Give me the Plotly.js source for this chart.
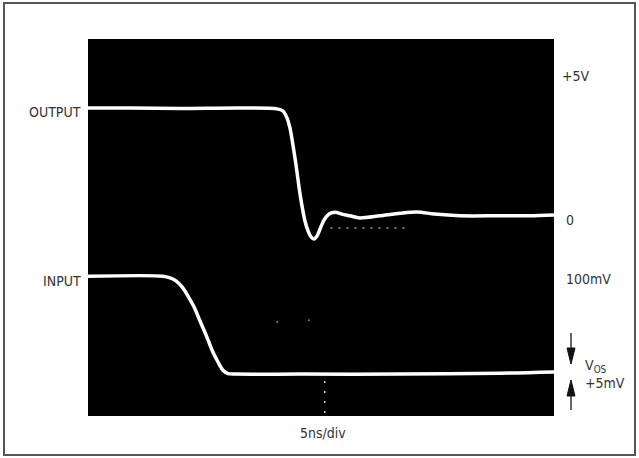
<!DOCTYPE html>
<html>
<head>
<meta charset="utf-8">
<script src="https://cdn.plot.ly/plotly-3.0.1.min.js"></script>
<style>
  html, body { margin: 0; padding: 0; background: #fff; }
  #chart { width: 639px; height: 458px; }
</style>
</head>
<body>
<div id="chart"></div>
<script>
// ---- data (time in ns, 5 ns/div; vertical in screen divisions) ----
const outputTime = [0, 4.5, 9.9, 16.3, 20.28, 20.92, 21.35, 21.67, 21.99, 22.32, 22.64, 22.96, 23.28, 23.61, 23.93, 24.25, 24.57, 24.89, 25.32, 25.86, 26.5, 27.25, 28.11, 29.18, 31.3, 33.5, 35.3, 37.2, 39.9, 44.2, 47.4, 50];
const outputLevel = [6.47, 6.47, 6.46, 6.47, 6.45, 6.40, 6.24, 6.01, 5.61, 5.15, 4.64, 4.20, 3.85, 3.62, 3.48, 3.43, 3.50, 3.66, 3.87, 4.01, 4.05, 4.01, 3.97, 3.92, 3.97, 4.03, 4.06, 4.01, 3.97, 3.97, 3.97, 3.99];
const inputTime = [0, 8.05, 8.8, 9.44, 10.09, 10.73, 11.37, 12.02, 12.66, 13.3, 13.95, 14.48, 15.02, 15.77, 22.7, 33.5, 44.2, 50];
const inputLevel = [2.57, 2.57, 2.53, 2.46, 2.32, 2.11, 1.86, 1.53, 1.21, 0.86, 0.58, 0.39, 0.31, 0.30, 0.30, 0.30, 0.32, 0.35];
const refLineTime = [26, 34.3];
const refLineLevel = [3.69, 3.69];
const markerTime = [25.4, 25.4];
const markerLevel = [-0.6, 0.15];
const strayTime = [20.3, 23.7];
const strayLevel = [1.51, 1.55];
const leftLabels = ["OUTPUT", "INPUT"];
const rightLabels = ["+5V", "0", "100mV"];
const xLabel = "5ns/div";

// ---- layout geometry (pixels) ----
const W = 639, H = 458;
const L = 88, R = 554, T = 39, B = 416;
const px = x => (x - L) / (R - L);
const py = y => (B - y) / (B - T);
const font = { family: "Liberation Sans Narrow, DejaVu Sans Condensed, Roboto, sans-serif", size: 14, color: "#333" };

const traces = [
  { x: outputTime, y: outputLevel, mode: "lines", line: { color: "#fff", width: 3.5, shape: "spline", smoothing: 0.8 }, hoverinfo: "skip" },
  { x: inputTime, y: inputLevel, mode: "lines", line: { color: "#fff", width: 3.5, shape: "spline", smoothing: 0.8 }, hoverinfo: "skip" },
  { x: refLineTime, y: refLineLevel, mode: "lines", line: { color: "#bbb", width: 1.3, dash: "2px,6px" }, hoverinfo: "skip" },
  { x: markerTime, y: markerLevel, mode: "lines", line: { color: "#ccc", width: 1.5, dash: "2px,8px" }, hoverinfo: "skip" },
  { x: strayTime, y: strayLevel, mode: "markers", marker: { color: "#888", size: 2 }, hoverinfo: "skip" }
];

const ann = [];
ann.push({ text: leftLabels[0], x: px(83), y: py(112), xanchor: "right", yanchor: "middle" });
ann.push({ text: leftLabels[1], x: px(83), y: py(281), xanchor: "right", yanchor: "middle" });
ann.push({ text: rightLabels[0], x: px(560), y: py(76), xanchor: "left", yanchor: "middle" });
ann.push({ text: rightLabels[1], x: px(564), y: py(220), xanchor: "left", yanchor: "middle" });
ann.push({ text: rightLabels[2], x: px(564), y: py(279), xanchor: "left", yanchor: "middle" });
ann.push({ text: "V<sub>OS</sub>", x: px(583), y: py(366), xanchor: "left", yanchor: "middle" });
ann.push({ text: "+5mV", x: px(583), y: py(383), xanchor: "left", yanchor: "middle" });
ann.push({ text: xLabel, x: px(323), y: py(433), xanchor: "center", yanchor: "middle" });
ann.forEach(a => { a.xref = "paper"; a.yref = "paper"; a.showarrow = false; a.font = font; });

const ax = 571;
const shapes = [
  // outer frame
  { type: "rect", xref: "paper", yref: "paper", x0: px(4), x1: px(635), y0: py(3), y1: py(455), line: { color: "#555", width: 2 } },
  // down arrow
  { type: "line", xref: "paper", yref: "paper", x0: px(ax), x1: px(ax), y0: py(333), y1: py(352), line: { color: "#111", width: 1.3 } },
  { type: "path", xref: "paper", yref: "paper", path: `M ${px(ax-4)} ${py(348)} L ${px(ax+4)} ${py(348)} L ${px(ax)} ${py(364)} Z`, fillcolor: "#111", line: { color: "#111", width: 1 } },
  // up arrow
  { type: "path", xref: "paper", yref: "paper", path: `M ${px(ax-4)} ${py(396)} L ${px(ax+4)} ${py(396)} L ${px(ax)} ${py(380)} Z`, fillcolor: "#111", line: { color: "#111", width: 1 } },
  { type: "line", xref: "paper", yref: "paper", x0: px(ax), x1: px(ax), y0: py(393), y1: py(410), line: { color: "#111", width: 1.3 } }
];

const layout = {
  width: W, height: H,
  margin: { l: L, r: W - R, t: T, b: H - B, pad: 0 },
  paper_bgcolor: "#fff", plot_bgcolor: "#000",
  showlegend: false,
  xaxis: { range: [0, 50], visible: false, fixedrange: true },
  yaxis: { range: [-0.672, 8.07], visible: false, fixedrange: true },
  annotations: ann,
  shapes: shapes
};

Plotly.newPlot("chart", traces, layout, { displayModeBar: false, staticPlot: true });
</script>
</body>
</html>
